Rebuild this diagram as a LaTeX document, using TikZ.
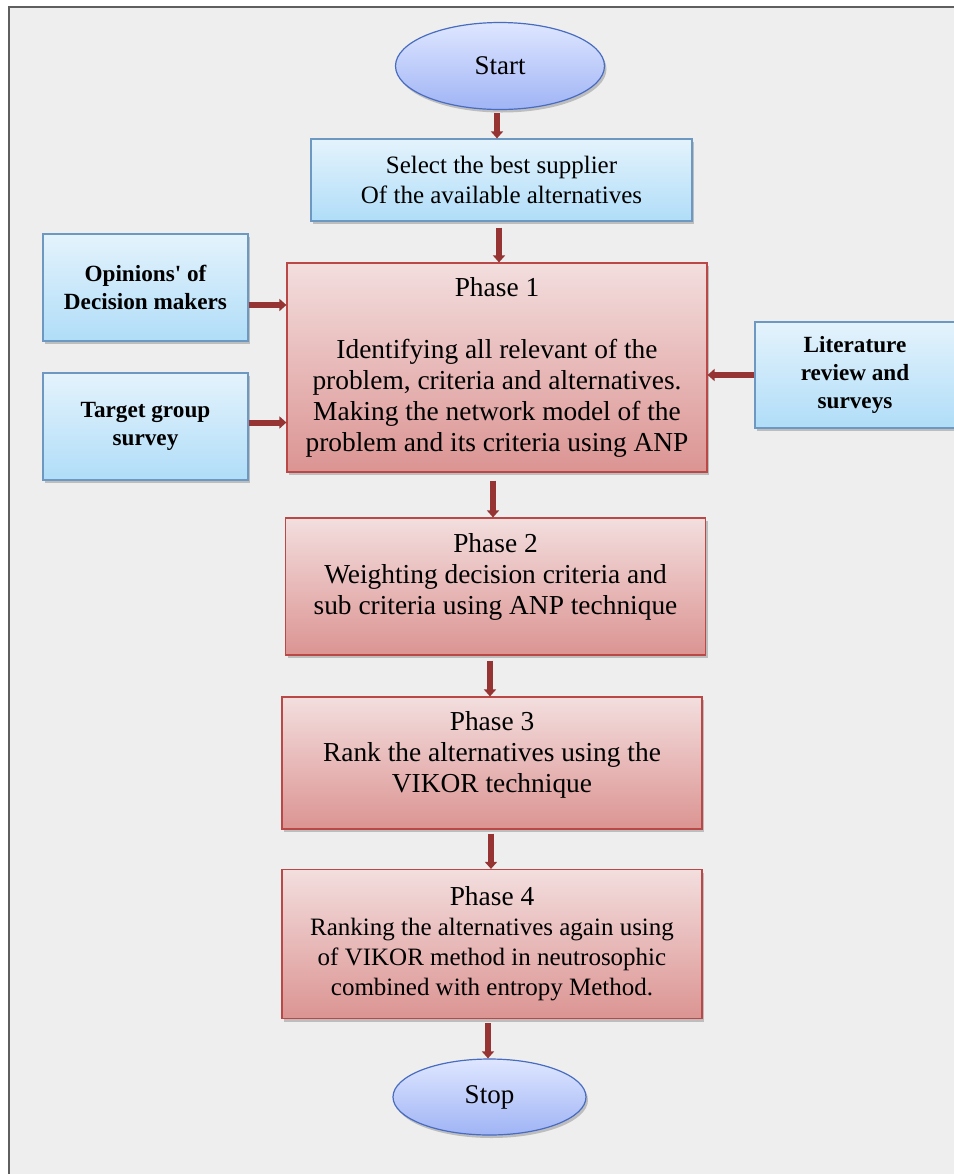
\documentclass[tikz,border=0pt]{standalone}
\usepackage{fontspec}
\setmainfont{Liberation Serif}
\usetikzlibrary{arrows.meta,shapes.geometric,shadows}

\definecolor{pagebg}{RGB}{238,238,238}
\definecolor{frameline}{RGB}{95,95,95}
\definecolor{flowred}{RGB}{149,52,50}
\definecolor{phasetop}{RGB}{243,222,222}
\definecolor{phasebot}{RGB}{219,148,146}
\definecolor{phaseline}{RGB}{185,72,70}
\definecolor{intop}{RGB}{228,243,252}
\definecolor{inbot}{RGB}{176,221,248}
\definecolor{inline}{RGB}{108,152,194}
\definecolor{termtop}{RGB}{222,230,255}
\definecolor{termbot}{RGB}{160,180,245}
\definecolor{termline}{RGB}{72,108,192}

\tikzset{>={Triangle[width=6pt,length=3.5pt]}}
\tikzset{
  box/.style={rectangle, line width=0.6pt, align=center, inner sep=2pt,
    drop shadow={shadow xshift=1pt, shadow yshift=-1.5pt, opacity=0.3, fill=black!70}},
  phasebox/.style={box, draw=phaseline, top color=phasetop, bottom color=phasebot,
    font=\fontsize{13.7}{15.5}\selectfont, minimum width=210pt},
  inputbox/.style={box, draw=inline, top color=intop, bottom color=inbot,
    font=\fontsize{11.6}{14}\selectfont\bfseries, minimum width=102.5pt, minimum height=53.5pt},
  terminal/.style={ellipse, line width=0.6pt, draw=termline, top color=termtop, bottom color=termbot,
    font=\fontsize{13.5}{15.5}\selectfont, inner sep=0pt,
    drop shadow={shadow xshift=1pt, shadow yshift=-1.5pt, opacity=0.3, fill=black!70}},
  flow/.style={->, draw=flowred, line width=3pt}
}

\begin{document}
\begin{tikzpicture}[x=1pt,y=-1pt]
  \useasboundingbox (0,0) rectangle (477,587);
  \fill[white] (0,0) rectangle (477,587);
  \fill[pagebg] (4.5,3.5) rectangle (477,587);
  \draw[frameline, line width=1pt] (4.5,587) -- (4.5,3.5) -- (477,3.5);

  \node[terminal, minimum width=104.5pt, minimum height=43.5pt] (start) at (250,33) {Start};
  \node[box, draw=inline, top color=intop, bottom color=inbot, font=\fontsize{12.5}{15}\selectfont,
        minimum width=190.5pt, minimum height=41pt] (select) at (250.75,90)
        {Select the best supplier\\ Of the available alternatives};
  \node[phasebox, minimum height=104.5pt] (ph1) at (248.5,183.75)
        {Phase 1\\ \\ Identifying all relevant of the\\ problem, criteria and alternatives.\\
         Making the network model of the\\ problem and its criteria using ANP};
  \node[inputbox] (opinion) at (72.75,143.75) {Opinions\textquotesingle{} of\\ Decision makers};
  \node[inputbox] (target) at (72.75,213.25) {Target group\\ survey};
  \node[inputbox, minimum width=100pt, minimum height=53pt] (review) at (427.5,187.5)
        {Literature\\ review and\\ surveys};
  \node[phasebox, minimum height=68.5pt, text depth=13pt] (ph2) at (247.75,293.25)
        {Phase 2\\ Weighting decision criteria and\\ sub criteria using ANP technique};
  \node[phasebox, minimum height=66pt, text depth=11pt] (ph3) at (246,381.5)
        {Phase 3\\ Rank the alternatives using the\\ VIKOR technique};
  \node[phasebox, minimum height=74.5pt, font=\fontsize{12.5}{15}\selectfont] (ph4) at (246,472)
        {{\fontsize{13.7}{15}\selectfont Phase 4}\\ Ranking the alternatives again using\\
         of VIKOR method in neutrosophic\\ combined with entropy Method.};
  \node[terminal, minimum width=96.5pt, minimum height=38pt] (stop) at (244.75,548.5) {Stop};

  %\draw[flow] (start) -- (select);
  \draw[flow, shorten <=1.5pt] (248.5,0 |- start.south) -- (248.5,0 |- select.north);
  \draw[flow, shorten <=3pt] (249.5,0 |- select.south) -- (249.5,0 |- ph1.north);
  \draw[flow, shorten <=4pt] (246.5,0 |- ph1.south) -- (246.5,0 |- ph2.north);
  \draw[flow, shorten <=2.5pt] (245,0 |- ph2.south) -- (245,0 |- ph3.north);
  \draw[flow, shorten <=2pt] (245.5,0 |- ph3.south) -- (245.5,0 |- ph4.north);
  \draw[flow, shorten <=2pt] (244,0 |- ph4.south) -- (244,0 |- stop.north);

  \draw[flow] ([yshift=-8.75pt]opinion.east) -- ([yshift=-8.75pt]ph1.west |- opinion.east);
  \draw[flow] ([yshift=2pt]target.east) -- ([yshift=2pt]ph1.west |- target.east);
  \draw[flow] (review.west) -- (ph1.east |- review.west);
\end{tikzpicture}
\end{document}
